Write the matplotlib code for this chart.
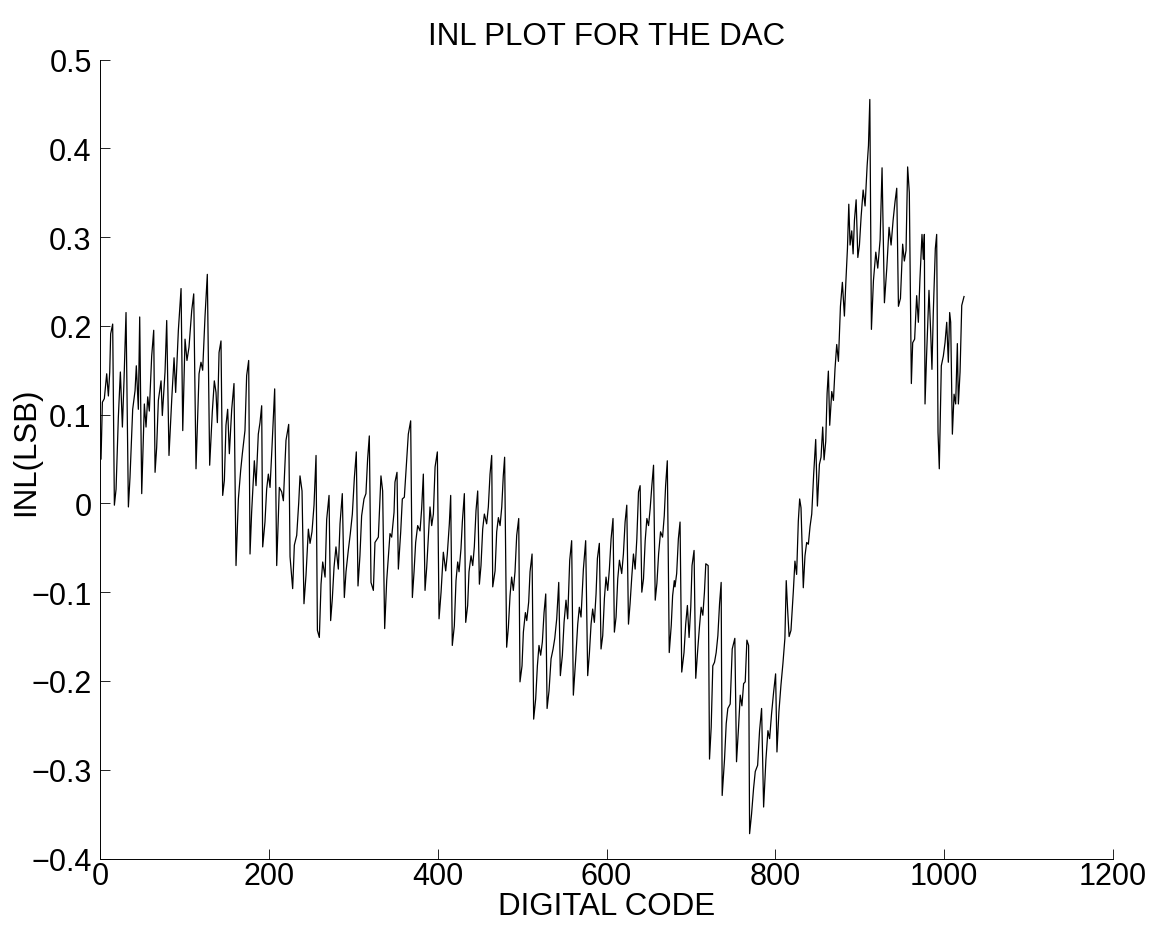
"""INL plot for the DAC, redrawn from the reference picture"""
import matplotlib
matplotlib.use('Agg')
import matplotlib.pyplot as plt

# values: digital code and INL in LSB at turning points
DIGITAL_CODE = [
    1.2, 2.8, 5.1, 7.9, 9.9, 11.5, 12.6, 15.0, 17.0, 19.0, 21.7, 24.1, 26.5, 28.4, 30.8,
    33.6, 35.5, 38.7, 41.5, 43.0, 45.4, 47.0, 49.4, 52.5, 54.5, 56.5, 58.4, 61.2, 63.6,
    65.2, 67.1, 69.1, 72.3, 73.8, 77.0, 79.0, 81.7, 85.0, 87.7, 89.6, 92.8, 96.0, 98.0,
    100.7, 103.0, 105.4, 108.6, 111.0, 113.7, 117.3, 119.6, 121.6, 124.4, 127.1, 129.9,
    133.0, 135.4,
    137.4, 139.0, 141.0, 143.3, 145.3, 147.3, 149.2, 151.2, 153.2, 156.0, 158.7, 161.1,
    163.9, 166.6, 168.6, 171.7, 173.7, 176.1, 177.7, 179.6, 182.8, 184.8, 187.5, 189.5,
    191.5, 192.7, 195.4, 197.4, 199.4, 201.4, 203.7, 206.9, 209.3, 212.4, 215.2, 217.2,
    220.3, 223.5, 225.1, 228.2, 230.2, 233.0, 235.4, 236.9, 239.3, 241.6, 244.0, 246.8,
    248.8, 251.1, 253.5, 255.9, 257.5, 259.8, 261.8, 263.8, 266.6,
    268.5, 271.3, 273.2, 275.2, 277.2, 279.5, 282.3, 284.3, 287.0, 289.4, 291.4, 294.1,
    296.5, 298.9, 301.3, 303.6, 305.6, 307.9, 309.9, 312.7, 315.0, 317.0, 319.0, 321.0,
    323.8, 325.7, 329.7, 332.8, 334.8, 337.2, 339.6, 341.5, 343.5, 345.5, 348.3, 349.4,
    351.8, 353.4, 356.2, 358.1, 360.5, 363.3, 365.2, 368.0, 370.0, 372.0, 373.9, 376.3,
    379.1, 381.0, 383.0, 385.0, 387.0, 389.4, 390.9, 392.9, 394.9, 396.9, 399.6, 401.6,
    404.0, 406.7, 409.5, 411.4, 413.8, 415.4, 417.3, 419.7, 421.7, 423.7, 425.3, 427.6,
    429.2, 431.6, 433.2, 435.5, 437.1, 439.5, 441.5, 443.4, 445.4, 447.4, 449.4, 451.3,
    453.3, 455.3, 458.0, 460.0, 462.0, 464.0, 465.2, 468.0, 469.9, 471.9, 473.9, 475.9,
    477.7, 479.3, 481.7, 483.7, 485.7, 487.6, 489.6, 491.6, 493.6, 496.0, 497.5, 499.9,
    501.5, 503.9, 505.5, 507.8, 509.4, 511.8, 513.7, 516.1, 518.1, 520.0, 522.0, 524.0,
    526.0, 528.0, 529.6, 531.9, 534.3, 536.7, 538.7, 541.0, 543.4,
    545.3, 547.7, 549.7, 552.0, 554.0, 556.4, 558.7, 560.7, 563.5, 565.9, 567.8, 569.8,
    572.6, 575.3, 577.7, 579.7, 581.7, 583.6, 585.6, 587.6, 589.2, 591.5, 593.5, 595.5,
    597.5, 599.4, 601.4, 603.4, 605.4, 607.7, 609.3, 611.3, 613.3, 615.3, 618.0, 620.0,
    622.0, 624.0, 626.0, 627.9, 629.9, 631.9, 633.9, 635.9, 637.9, 639.8, 641.8, 643.8,
    645.8, 647.8, 649.8, 651.7, 653.7, 655.7, 657.7, 659.7, 661.7, 664.0, 666.4, 668.4,
    670.0, 672.0, 674.3, 676.7, 678.3, 680.3,
    681.1, 683.1, 685.1, 687.1, 689.1, 691.8, 693.8, 695.8, 697.8, 699.8, 701.3, 703.7,
    705.7, 708.1, 710.1, 712.1, 714.1, 716.0, 717.6, 720.4, 722.0, 724.0, 725.9, 727.9,
    729.9, 731.9, 733.9, 735.8, 737.0, 739.8, 741.8, 743.7, 746.5, 748.9, 752.0, 754.0,
    756.4, 758.4, 760.4, 762.4, 764.3, 766.3, 768.3, 769.5, 771.8, 774.2, 776.2, 779.0,
    781.3, 783.7, 786.1, 788.8, 791.2, 793.2, 795.5, 797.9, 800.3, 801.9, 804.2, 806.6,
    809.0, 811.3, 812.9, 814.5,
    816.3, 818.5, 821.3, 823.2, 825.2, 827.2, 828.8, 830.4, 833.1, 835.1, 837.1, 839.1,
    841.1, 843.1, 845.4, 847.8, 849.8, 852.2, 854.1, 856.1, 857.7, 859.7, 861.3, 862.8,
    864.4, 866.8, 868.8, 870.7, 872.7, 874.7, 877.1, 879.4, 881.8, 883.4, 885.4, 887.0,
    888.5, 890.5, 892.1, 893.7, 895.7, 897.7, 899.6, 901.6, 904.0, 906.3, 908.7, 910.3,
    911.9, 913.8, 916.2, 919.0, 921.3, 924.1, 926.4, 929.2, 932.0, 934.7, 937.1, 939.5,
    941.8, 943.8, 945.8, 948.2,
    950.8, 952.8, 954.8, 956.7, 958.7, 961.1, 962.7, 965.0, 967.4, 969.4, 971.3, 973.7,
    975.3, 976.5, 977.3, 979.2, 982.0, 984.0, 985.5, 987.1, 989.5, 991.1, 992.7, 994.2,
    996.6, 999.0, 1001.0, 1003.0, 1004.9, 1006.5, 1007.7, 1009.7, 1011.7, 1013.6, 1015.6,
    1016.8, 1018.8, 1020.8, 1023.5,
]

INL_LSB = [
    0.050, 0.114, 0.118, 0.146, 0.121, 0.148, 0.191, 0.202, -0.002, 0.016, 0.097, 0.148,
    0.086, 0.138, 0.215, -0.004, 0.029, 0.106, 0.127, 0.155, 0.106, 0.210, 0.011, 0.112,
    0.086, 0.120, 0.104, 0.166, 0.195, 0.035, 0.063, 0.116, 0.138, 0.099, 0.148, 0.206,
    0.054, 0.118, 0.164, 0.125, 0.195, 0.242, 0.082, 0.185, 0.161, 0.176, 0.217, 0.236,
    0.039, 0.146, 0.159, 0.150, 0.211, 0.258, 0.043, 0.103, 0.138,
    0.125, 0.091, 0.170, 0.183, 0.009, 0.026, 0.088, 0.106, 0.056, 0.106, 0.135, -0.070,
    0.005, 0.037, 0.056, 0.082, 0.144, 0.161, -0.057, -0.010, 0.048, 0.020, 0.078, 0.091,
    0.110, -0.049, -0.021, 0.016, 0.033, 0.018, 0.063, 0.129, -0.070, 0.018, 0.013, 0.003,
    0.071, 0.089, -0.060, -0.096, -0.047, -0.036, 0.001, 0.031, 0.014, -0.113, -0.081,
    -0.029, -0.045, -0.032, -0.002, 0.054, -0.143, -0.151, -0.091, -0.066, -0.083,
    -0.018, 0.009, -0.132, -0.107, -0.072, -0.049, -0.074, -0.023, 0.011, -0.106, -0.077,
    -0.053, -0.034, -0.012, 0.029, 0.058, -0.093, -0.059, -0.014, 0.005, 0.011, 0.050,
    0.076, -0.089, -0.098, -0.044, -0.038, 0.031, 0.014, -0.141, -0.087, -0.061, -0.034,
    -0.038, -0.010, 0.024, 0.035, -0.074, -0.032, 0.005, 0.007, 0.050, 0.078, 0.093,
    -0.106, -0.077, -0.044, -0.025, -0.031, -0.006, 0.033, -0.098, -0.072, -0.031, -0.004,
    -0.025, -0.012, 0.041, 0.058, -0.130,
    -0.100, -0.055, -0.076, -0.057, -0.023, 0.009, -0.160, -0.138, -0.087, -0.066, -0.077,
    -0.051, -0.021, 0.011, -0.134, -0.115, -0.077, -0.059, -0.070, -0.049, -0.008, 0.014,
    -0.091, -0.070, -0.029, -0.012, -0.023, -0.004, 0.033, 0.054, -0.094, -0.076, -0.032,
    -0.016, -0.025, -0.004, 0.031, 0.052, -0.162, -0.140, -0.104, -0.083, -0.098, -0.077,
    -0.036, -0.017, -0.201, -0.183, -0.145, -0.123, -0.132, -0.111, -0.077, -0.057,
    -0.243, -0.220, -0.183, -0.160, -0.171, -0.156, -0.123, -0.102, -0.231, -0.211,
    -0.175, -0.164, -0.152, -0.130, -0.089,
    -0.194, -0.171, -0.134, -0.109, -0.130, -0.064, -0.042, -0.216, -0.175, -0.136,
    -0.117, -0.128, -0.074, -0.042, -0.194, -0.169, -0.136, -0.119, -0.134, -0.102,
    -0.062, -0.045, -0.164, -0.149, -0.107, -0.083, -0.098, -0.074, -0.040, -0.017,
    -0.145, -0.128, -0.085, -0.064, -0.079, -0.057, -0.021, -0.002, -0.136, -0.113,
    -0.083, -0.057, -0.074, -0.040, 0.013, 0.020, -0.100, -0.085, -0.042, -0.017, -0.025,
    -0.006, 0.020, 0.043, -0.109, -0.090, -0.057, -0.032, -0.038, -0.014, 0.020, 0.048,
    -0.168, -0.137, -0.104, -0.087,
    -0.094, -0.079, -0.040, -0.021, -0.190, -0.168, -0.136, -0.115, -0.151, -0.117,
    -0.070, -0.053, -0.197, -0.164, -0.139, -0.117, -0.126, -0.100, -0.068, -0.070,
    -0.288, -0.252, -0.183, -0.179, -0.168, -0.149, -0.113, -0.089, -0.329, -0.288,
    -0.248, -0.231, -0.226, -0.164, -0.152, -0.291, -0.252, -0.216, -0.228, -0.203,
    -0.201, -0.154, -0.160, -0.372, -0.350, -0.321, -0.302, -0.295, -0.256, -0.231,
    -0.342, -0.289, -0.256, -0.265, -0.237, -0.213, -0.192, -0.280, -0.235, -0.205,
    -0.180, -0.152, -0.087, -0.119,
    -0.150, -0.143, -0.099, -0.065, -0.080, -0.020, 0.005, -0.005, -0.095, -0.059, -0.044,
    -0.046, -0.026, -0.012, 0.033, 0.072, -0.003, 0.044, 0.052, 0.086, 0.049, 0.070,
    0.124, 0.149, 0.088, 0.126, 0.116, 0.152, 0.179, 0.160, 0.222, 0.249, 0.211, 0.247,
    0.287, 0.337, 0.291, 0.307, 0.281, 0.319, 0.342, 0.277, 0.291, 0.323, 0.353, 0.335,
    0.380, 0.403, 0.455, 0.196, 0.251, 0.283, 0.265, 0.297, 0.378, 0.226, 0.265, 0.311,
    0.291, 0.319, 0.340, 0.355, 0.222, 0.231,
    0.292, 0.273, 0.285, 0.379, 0.350, 0.135, 0.181, 0.185, 0.234, 0.204, 0.253, 0.303,
    0.275, 0.303, 0.112, 0.168, 0.240, 0.193, 0.151, 0.215, 0.287, 0.303, 0.080, 0.039,
    0.155, 0.166, 0.181, 0.204, 0.159, 0.215, 0.204, 0.078, 0.123, 0.112, 0.180, 0.112,
    0.148, 0.223, 0.233,
]

X_TICKS = [0, 200, 400, 600, 800, 1000, 1200]
Y_TICKS = [-0.4, -0.3, -0.2, -0.1, 0.0, 0.1, 0.2, 0.3, 0.4, 0.5]
Y_TICK_LABELS = ['\u22120.4', '\u22120.3', '\u22120.2', '\u22120.1', '0',
                 '0.1', '0.2', '0.3', '0.4', '0.5']


def plot(codes, inl):
    """Draw the INL curve in the old MATLAB look"""
    plt.rcParams['font.family'] = ['Liberation Sans', 'DejaVu Sans']
    fig = plt.figure(figsize=(11.51, 9.28), dpi=100)
    ax = fig.add_axes([0.0869, 0.0738, 0.8801, 0.861])
    ax.plot(codes, inl, color='black', linewidth=0.9)

    ax.set_xlim(0, 1200)
    ax.set_ylim(-0.4, 0.5)
    ax.set_xticks(X_TICKS)
    ax.set_xticklabels([str(t) for t in X_TICKS])
    ax.set_yticks(Y_TICKS)
    ax.set_yticklabels(Y_TICK_LABELS)
    ax.tick_params(direction='in', length=7, width=0.6, labelsize=22)
    ax.tick_params(axis='x', pad=2)
    ax.tick_params(axis='y', pad=6)
    for side in ('top', 'right'):
        ax.spines[side].set_visible(False)
    for side in ('left', 'bottom'):
        ax.spines[side].set_linewidth(0.7)

    ax.set_title('INL PLOT FOR THE DAC', fontsize=22.5, pad=11)
    ax.set_xlabel('DIGITAL CODE', fontsize=22.5, labelpad=0)
    ax.set_ylabel('INL(LSB)', fontsize=22.5)
    ax.yaxis.set_label_coords(-0.058, 0.51)
    fig.savefig('out.png', dpi=100)


plot(DIGITAL_CODE, INL_LSB)
